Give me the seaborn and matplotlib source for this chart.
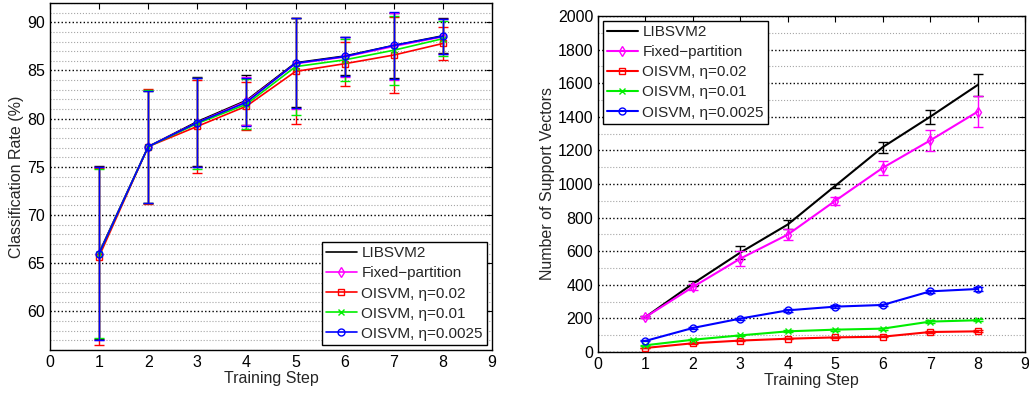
import numpy as np
import matplotlib
matplotlib.use("Agg")
import matplotlib.pyplot as plt
from matplotlib.ticker import MultipleLocator
import seaborn as sns

# Data
steps = [1, 2, 3, 4, 5, 6, 7, 8]
methods = ["LIBSVM2", "Fixed\u2212partition", "OISVM, \u03b7=0.02", "OISVM, \u03b7=0.01", "OISVM, \u03b7=0.0025"]

# classification rate (%) and its spread
acc_libsvm = [66.1, 77.1, 79.7, 81.9, 85.8, 86.5, 87.6, 88.6]
acc_libsvm_sd = [9.0, 5.8, 4.6, 2.6, 4.6, 2.0, 3.4, 1.8]
acc_fixed = [66.0, 77.1, 79.6, 81.8, 85.7, 86.4, 87.5, 88.5]
acc_fixed_sd = [9.0, 5.9, 4.6, 2.5, 4.7, 2.1, 3.5, 1.8]
acc_eta02 = [65.7, 77.1, 79.2, 81.3, 84.9, 85.7, 86.6, 87.8]
acc_eta02_sd = [9.2, 6.0, 4.8, 2.5, 5.5, 2.3, 3.9, 1.7]
acc_eta01 = [66.0, 77.1, 79.5, 81.5, 85.4, 86.1, 87.1, 88.3]
acc_eta01_sd = [8.8, 5.9, 4.7, 2.6, 5.0, 2.2, 3.6, 1.8]
acc_eta0025 = [66.0, 77.1, 79.6, 81.7, 85.75, 86.45, 87.6, 88.55]
acc_eta0025_sd = [9.0, 5.8, 4.65, 2.5, 4.65, 2.05, 3.5, 1.8]

# number of support vectors and its spread
sv_libsvm = [208, 407, 592, 759, 989, 1219, 1400, 1589]
sv_libsvm_sd = [5, 14, 38, 24, 10, 32, 42, 68]
sv_fixed = [208, 387, 556, 699, 900, 1096, 1259, 1430]
sv_fixed_sd = [8, 15, 43, 35, 23, 40, 62, 92]
sv_eta02 = [24, 52, 68, 79, 87, 91, 119, 123]
sv_eta02_sd = [2, 3, 3, 4, 4, 4, 5, 5]
sv_eta01 = [40, 73, 99, 123, 133, 139, 181, 189]
sv_eta01_sd = [3, 4, 5, 5, 6, 6, 7, 7]
sv_eta0025 = [66, 143, 199, 248, 270, 280, 361, 375]
sv_eta0025_sd = [3, 5, 6, 7, 7, 8, 9, 9]

colors = ["#000000", "#ff00ff", "#ff0000", "#00ee00", "#0000ff"]
markers = [None, "d", "s", "x", "o"]

acc_series = [(acc_libsvm, acc_libsvm_sd), (acc_fixed, acc_fixed_sd), (acc_eta02, acc_eta02_sd),
              (acc_eta01, acc_eta01_sd), (acc_eta0025, acc_eta0025_sd)]
sv_series = [(sv_libsvm, sv_libsvm_sd), (sv_fixed, sv_fixed_sd), (sv_eta02, sv_eta02_sd),
             (sv_eta01, sv_eta01_sd), (sv_eta0025, sv_eta0025_sd)]

sns.set_style("white")
plt.rcParams["font.family"] = ["Liberation Sans", "DejaVu Sans"]
plt.rcParams["font.size"] = 11.5

fig = plt.figure(figsize=(10.29, 3.94), dpi=100)
ax1 = fig.add_axes([50 / 1029, 1 - 350 / 394, 442 / 1029, 347 / 394])
ax2 = fig.add_axes([598 / 1029, 1 - 352 / 394, 427 / 1029, 336 / 394])


def draw(ax, series, lw):
    for i, ((vals, sd), name) in enumerate(zip(series, methods)):
        ax.errorbar(steps, vals, yerr=sd, fmt="none", ecolor=colors[i], elinewidth=1.0,
                    capsize=3.5, capthick=1.0, zorder=2 + i)
        sns.lineplot(x=steps, y=vals, ax=ax, color=colors[i], marker=markers[i], label=name,
                     linewidth=lw, markersize=5, markeredgecolor=colors[i],
                     markerfacecolor="none", markeredgewidth=1.0, zorder=2 + i)


def style(ax, ylim, major, minor):
    ax.set_xlim(0, 9)
    ax.set_ylim(*ylim)
    ax.xaxis.set_major_locator(MultipleLocator(1))
    ax.yaxis.set_major_locator(MultipleLocator(major))
    ax.yaxis.set_minor_locator(MultipleLocator(minor))
    ax.yaxis.grid(True, which="major", linestyle=":", color="k", linewidth=1.0)
    ax.yaxis.grid(True, which="minor", linestyle=":", color="0.65", linewidth=0.8)
    ax.xaxis.grid(False)
    ax.tick_params(which="major", direction="in", top=True, right=True, length=4,
                   width=0.8, labelsize=11.5, colors="k")
    ax.tick_params(which="minor", length=0)
    for sp in ax.spines.values():
        sp.set_color("k")
        sp.set_linewidth(1.0)
    ax.set_xlabel("Training Step", fontsize=11.5, labelpad=1)


def legend(ax, loc):
    leg = ax.legend(loc=loc, fontsize=11, frameon=True, fancybox=False, framealpha=1,
                    edgecolor="k", handlelength=2.0, borderpad=0.3, labelspacing=0.4,
                    handletextpad=0.3, borderaxespad=0.3)
    leg.get_frame().set_linewidth(1.0)


draw(ax1, acc_series, 1.2)
style(ax1, (56, 92), 5, 1)
ax1.set_yticks([60, 65, 70, 75, 80, 85, 90])
ax1.set_ylabel("Classification Rate (%)", fontsize=11.5, labelpad=2)
legend(ax1, "lower right")

draw(ax2, sv_series, 1.5)
style(ax2, (0, 2000), 200, 100)
ax2.set_ylabel("Number of Support Vectors", fontsize=11.5, labelpad=2)
legend(ax2, "upper left")

fig.savefig("out.png", dpi=100)
